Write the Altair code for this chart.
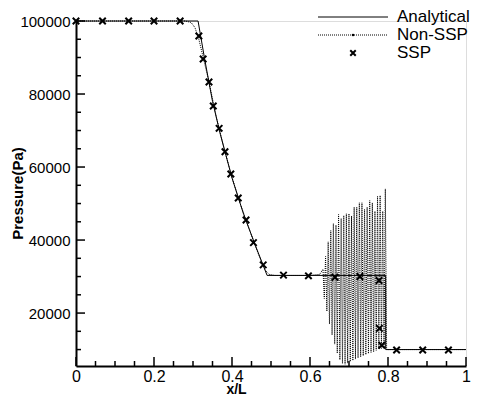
import altair as alt
import pandas as pd

# ---------------- data ----------------
ana_x = [0.0, 0.313, 0.33, 0.35, 0.37, 0.40, 0.43, 0.46, 0.49, 0.794, 0.794, 1.0]
ana_p = [100000, 100000, 89500, 78000, 69000, 57000, 47000, 38500, 30313, 30313, 10000, 10000]

ns_left_x = [0.0, 0.28, 0.295, 0.305, 0.315, 0.325, 0.34, 0.36, 0.38, 0.40, 0.42, 0.44,
             0.46, 0.475, 0.485, 0.495, 0.51, 0.55, 0.60, 0.625]
ns_left_p = [100000, 100000, 99600, 98200, 95000, 90500, 83800, 73600, 65000, 57200, 50300,
             44300, 38300, 34200, 31800, 30600, 30300, 30300, 30300, 30600]
osc_start = 0.6333
osc_step = 0.00333
osc_high = [32000, 35500, 39500, 42600, 44500, 44100, 47000, 45900, 46700, 47200, 47200,
            46600, 49000, 49000, 50200, 50200, 48400, 49000, 50800, 50200, 47900, 52000,
            52200, 47900, 54000]
osc_low = [24000, 20500, 17000, 14000, 11500, 9000, 7200, 6200, 6000, 6300, 6700, 7000,
           7400, 7700, 8000, 8300, 8600, 8900, 9200, 9400, 9800, 10100, 10300, 10600, 10000]
ns_right_x = [0.80, 1.0]
ns_right_p = [10000, 10000]

ssp_x = [0.0, 0.068, 0.135, 0.2, 0.267, 0.315, 0.326, 0.341, 0.352, 0.367, 0.382, 0.397,
         0.416, 0.436, 0.455, 0.48, 0.532, 0.596, 0.664, 0.728, 0.777, 0.778, 0.784,
         0.822, 0.889, 0.955]
ssp_p = [100000, 100000, 100000, 100000, 100000, 95900, 89600, 83300, 76700, 70600, 64200,
         58100, 51500, 45500, 39300, 33200, 30400, 30200, 29800, 30000, 28900, 15800, 11200,
         9900, 9900, 9900]

x_major = [0, 0.2, 0.4, 0.6, 0.8, 1.0]
x_minor = [0.05, 0.1, 0.15, 0.25, 0.3, 0.35, 0.45, 0.5, 0.55, 0.65, 0.7, 0.75, 0.85, 0.9, 0.95]
y_major = [20000, 40000, 60000, 80000, 100000]
y_minor = [10000, 15000, 25000, 30000, 35000, 45000, 50000, 55000, 65000, 70000,
           75000, 85000, 90000, 95000]

legend_labels = ["Analytical", "Non-SSP", "SSP"]

# ---------------- tables ----------------
ana_df = pd.DataFrame({"x": ana_x, "p": ana_p, "o": range(len(ana_x))})

ns_x, ns_p = list(ns_left_x), list(ns_left_p)
for i, (h, l) in enumerate(zip(osc_high, osc_low)):
    ns_x += [osc_start + 2 * i * osc_step, osc_start + (2 * i + 1) * osc_step]
    ns_p += [h, l]
ns_x += ns_right_x
ns_p += ns_right_p
ns_df = pd.DataFrame({"x": ns_x, "p": ns_p, "o": range(len(ns_x))})
ssp_df = pd.DataFrame({"x": ssp_x, "p": ssp_p})

W, H = 390, 345
FONT = "Liberation Sans"
xs = alt.Scale(domain=[0, 1], nice=False, zero=False)
ys = alt.Scale(domain=[5500, 100000], nice=False, zero=False)

X = alt.X("x:Q", scale=xs, axis=alt.Axis(
    values=x_major, labelExpr="datum.value == 0 ? '0' : datum.value == 1 ? '1' : format(datum.value, '.1f')",
    ticks=False, grid=False, domainColor="black", domainWidth=2, labelFont=FONT,
    labelFontSize=16, labelColor="black", labelPadding=2, labelFlush=False,
    labelOverlap=False, title="x/L", titleFont=FONT,
    titleFontSize=14, titleFontWeight="bold", titleColor="black", titleX=160, titleY=30,
    titleBaseline="bottom", titleAnchor="middle"))
Y = alt.Y("p:Q", scale=ys, axis=alt.Axis(
    values=y_major, format="d", ticks=False, grid=False, domainColor="black", domainWidth=2,
    labelFont=FONT, labelFontSize=15, labelColor="black", labelPadding=6, labelFlush=False,
    labelOverlap=False,
    title="Pressure(Pa)", titleFont=FONT, titleFontSize=15, titleFontWeight="bold",
    titleColor="black", titleAngle=-90, titleX=-59, titleY=172, titleBaseline="middle",
    titleAnchor="middle"))

analytical = alt.Chart(ana_df).mark_line(color="black", strokeWidth=1).encode(
    x=X, y=Y, order="o:Q")
nonssp = alt.Chart(ns_df).mark_line(color="black", strokeWidth=1, strokeDash=[1, 1]).encode(
    x=alt.X("x:Q", scale=xs), y=alt.Y("p:Q", scale=ys), order="o:Q")
XSHAPE = "M-1,-1L1,1M1,-1L-1,1"
ssp = alt.Chart(ssp_df).mark_point(shape=XSHAPE, filled=False, color="black", strokeWidth=2,
                                   size=42, opacity=1).encode(
    x=alt.X("x:Q", scale=xs), y=alt.Y("p:Q", scale=ys))

# inward ticks
xmaj = alt.Chart(pd.DataFrame({"x": x_major})).mark_rule(color="black", strokeWidth=1.5).encode(
    x=alt.X("x:Q", scale=xs), y=alt.value(H), y2=alt.value(H - 9))
xmin = alt.Chart(pd.DataFrame({"x": x_minor})).mark_rule(color="black", strokeWidth=1.5).encode(
    x=alt.X("x:Q", scale=xs), y=alt.value(H), y2=alt.value(H - 5))
ymaj = alt.Chart(pd.DataFrame({"p": y_major})).mark_rule(color="black", strokeWidth=1.5).encode(
    y=alt.Y("p:Q", scale=ys), x=alt.value(0), x2=alt.value(9))
ymin = alt.Chart(pd.DataFrame({"p": y_minor})).mark_rule(color="black", strokeWidth=1.5).encode(
    y=alt.Y("p:Q", scale=ys), x=alt.value(0), x2=alt.value(5))

# manual legend
LX1, LX2, TX = 242, 312, 321
ROWS = [-4, 14, 32]


def leg_text(i):
    return alt.Chart(pd.DataFrame({"label": [legend_labels[i]]})).mark_text(
        align="left", baseline="middle", font=FONT, fontSize=17, color="black").encode(
        x=alt.value(TX), y=alt.value(ROWS[i]), text="label:N")


leg_l1 = alt.Chart(pd.DataFrame({"a": [0]})).mark_rule(color="black", strokeWidth=1).encode(
    x=alt.value(LX1), x2=alt.value(LX2), y=alt.value(ROWS[0]))
leg_l2 = alt.Chart(pd.DataFrame({"a": [0]})).mark_rule(color="black", strokeWidth=1,
                                                      strokeDash=[1, 1]).encode(
    x=alt.value(LX1), x2=alt.value(LX2), y=alt.value(ROWS[1]))
leg_sq = alt.Chart(pd.DataFrame({"a": [0]})).mark_point(shape="square", filled=True,
                                                       color="black", size=5, opacity=1).encode(
    x=alt.value((LX1 + LX2) / 2), y=alt.value(ROWS[1]))
leg_x = alt.Chart(pd.DataFrame({"a": [0]})).mark_point(shape=XSHAPE, filled=False, color="black",
                                                      strokeWidth=2, size=30, opacity=1).encode(
    x=alt.value((LX1 + LX2) / 2), y=alt.value(ROWS[2]))

chart = alt.layer(
    analytical, nonssp, ssp, xmaj, xmin, ymaj, ymin,
    leg_l1, leg_l2, leg_sq, leg_x, leg_text(0), leg_text(1), leg_text(2)
).properties(
    width=W, height=H,
    autosize=alt.AutoSizeParams(type="none"),
    padding={"left": 68, "top": 13, "right": 7, "bottom": 30},
).configure_view(stroke=None).configure(background="white")

chart.save("out.html", embed_options={"renderer": "svg", "actions": False})
